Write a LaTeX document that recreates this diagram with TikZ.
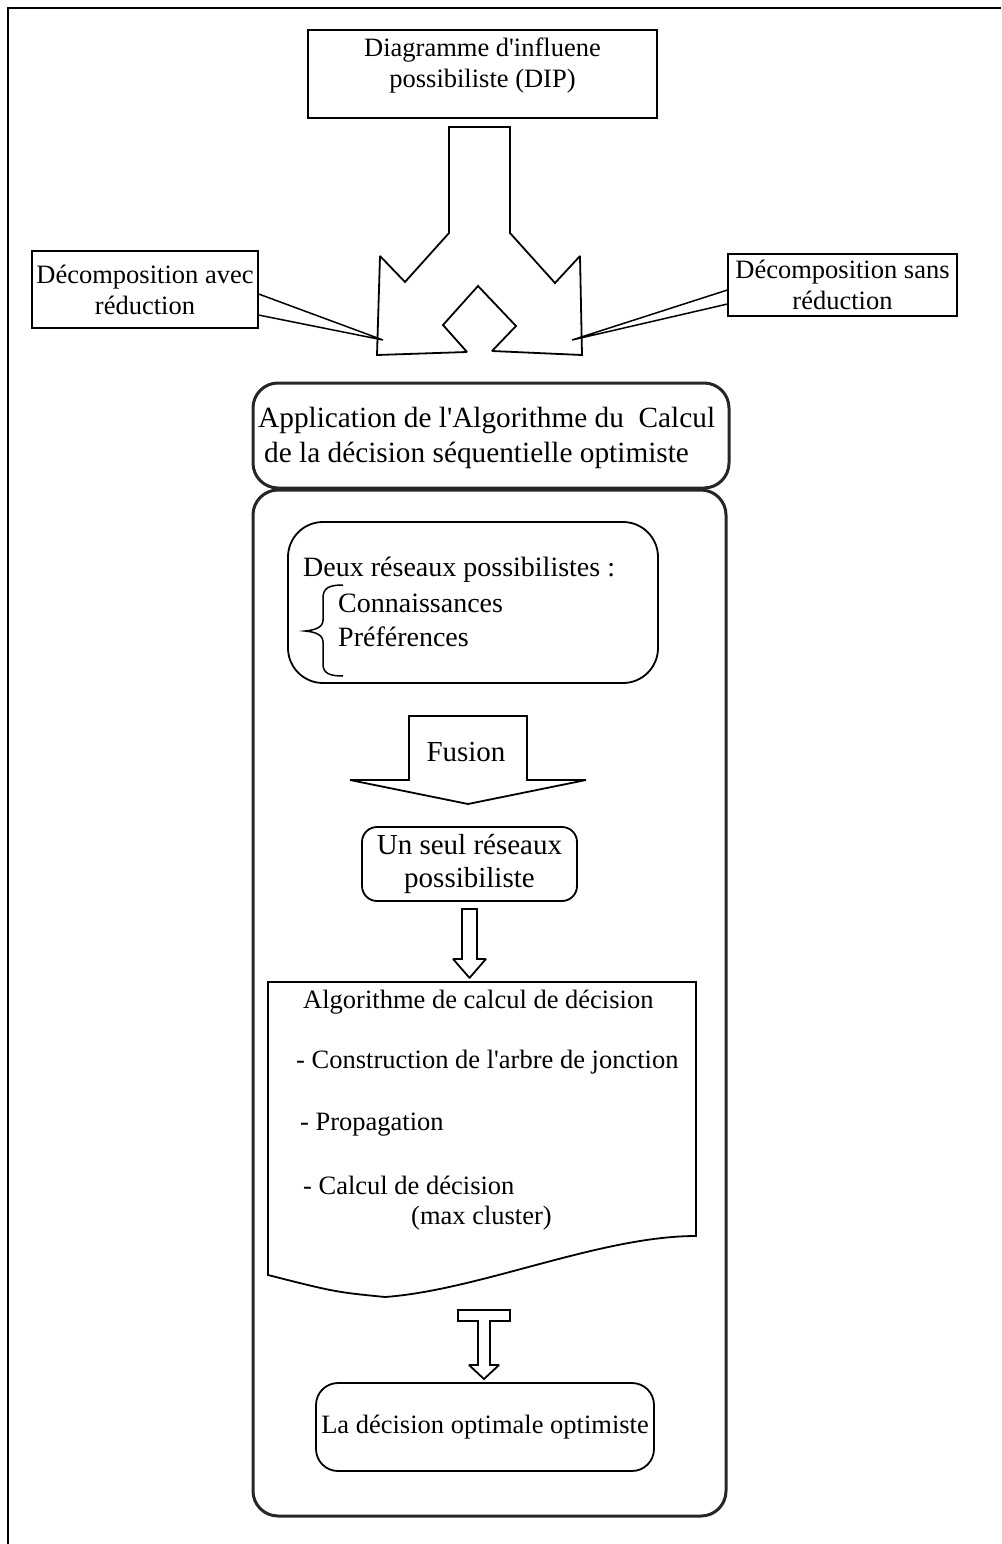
\documentclass[tikz,border=0pt]{standalone}
\usepackage{fontspec}
\setmainfont{Liberation Serif}[Ligatures=TeXOff]
\usetikzlibrary{calc}
\begin{document}
\begin{tikzpicture}[x=1pt,y=-1pt,line join=miter,
  frameline/.style={line width=2.5pt},
  sbox/.style={draw,line width=1.8pt,inner sep=0pt},
  rbox/.style={draw,line width=1.8pt,inner sep=0pt},
  bigbox/.style={draw=black!85,line width=3pt,inner sep=0pt,rounded corners=25pt},
  blk/.style={draw,line width=1.8pt,fill=white,miter limit=1.5},
  callout/.style={line width=1.5pt},
  f27/.style={font=\fontsize{26.5}{31}\selectfont,inner sep=0pt},
  f28/.style={font=\fontsize{28}{33.5}\selectfont,inner sep=0pt},
  f29/.style={font=\fontsize{29}{33}\selectfont,inner sep=0pt},
  f30/.style={font=\fontsize{29.3}{35}\selectfont,inner sep=0pt}
]
\useasboundingbox (0,0) rectangle (1001,1544);
% outer frame
\draw[frameline] (8,1544) -- (8,8) -- (1001,8);

% top box
\node[sbox,minimum width=349pt,minimum height=88pt] (dip) at (482.5,74) {};
\node[f27,align=center] (diptxt) at (482.5,65) {Diagramme d'influene\\possibiliste (DIP)};

% split block arrow
\draw[blk] (449,127) -- (510,127) -- (510,233) -- (555,283) -- (580,256) -- (582,355)
  -- (492,351) -- (516,326) -- (478,286) -- (443,325) -- (467,352) -- (377,355)
  -- (380,256) -- (405,282) -- (449,233) -- cycle;
\coordinate (tipL) at (383,340);
\coordinate (tipR) at (572,340);

% callouts
\node[sbox,minimum width=226pt,minimum height=77pt,f27,align=center,draw] (dla) at (145,289.5) {D\'ecomposition avec\\r\'eduction};
\node[sbox,minimum width=229pt,minimum height=62pt,f27,align=center,draw] (dsr) at (842.5,285) {D\'ecomposition sans\\r\'eduction};
\draw[callout] ($(dla.north east)+(0,44)$) -- (tipL) -- ($(dla.north east)+(0,65)$);
\draw[callout] ($(dsr.north west)+(0,37)$) -- (tipR) -- ($(dsr.north west)+(0,51)$);

% application box
\node[bigbox,minimum width=476pt,minimum height=105pt] (app) at (491,435.5) {};
\node[f30,align=left,anchor=west] (apptxt) at (258,437.5) {Application de l'Algorithme du\ \ Calcul\\\hspace*{6pt}de la d\'ecision s\'equentielle optimiste};

% container
\node[bigbox,minimum width=473pt,minimum height=1026pt] (cont) at (489.5,1003) {};

% deux reseaux
\node[rbox,rounded corners=35pt,minimum width=370pt,minimum height=161pt] (deux) at (473,602.5) {};
\node[f28,anchor=west] (deuxt) at (303,570) {Deux r\'eseaux possibilistes :};
\node[f28,anchor=west] (conn) at (338,603) {Connaissances};
\node[f28,anchor=west] (pref) at (338,637) {Pr\'ef\'erences};
\draw[line width=1.5pt] (343,585) .. controls (329,585) and (323,588) .. (323,598) -- (323,620)
  .. controls (323,627) and (316,630) .. (305,631)
  .. controls (316,632) and (323,635) .. (323,642) -- (323,664)
  .. controls (323,673) and (329,676) .. (343,676);

% fusion arrow
\draw[blk] (409,716) -- (527,716) -- (527,780) -- (586,780) -- (468,804) -- (350,780) -- (409,780) -- cycle;
\node[f29] (fusion) at (466,752) {Fusion};

% un seul reseau
\node[rbox,rounded corners=15pt,minimum width=215pt,minimum height=74pt,f29,align=center] (unseul) at (469.5,864) {Un seul r\'eseaux\\possibiliste};

% small arrow
\draw[blk] (unseul.south) ++(-7.5,7) -- ++(15,0) -- ++(0,50) -- ++(9,0) -- ++(-16.5,19) -- ++(-16.5,-19) -- ++(9,0) -- cycle;

% document shape
\coordinate (algo) at (482,982);
\draw[line width=1.8pt] (268,982) -- (696,982) -- (696,1236)
  .. controls (600,1236) and (480,1290) .. (385,1297)
  .. controls (335,1292) .. (268,1275) -- cycle;
\node[f27,anchor=west] (alg1) at (303,1002) {Algorithme de calcul de d\'ecision};
\node[f27,anchor=west] (alg2) at (296,1062) {- Construction de l'arbre de jonction};
\node[f27,anchor=west] (alg3) at (300,1125) {- Propagation};
\node[f27,anchor=west] (alg4) at (303,1185) {- Calcul de d\'ecision};
\node[f27,anchor=west] (alg5) at (411,1218) {(max cluster)};

% T arrow
\draw[blk] (458,1310) -- (510,1310) -- (510,1321) -- (490,1321) -- (490,1365) -- (499,1365)
  -- (484,1379) -- (469,1365) -- (478,1365) -- (478,1321) -- (458,1321) -- cycle;

% final box
\node[rbox,rounded corners=22pt,minimum width=338pt,minimum height=88pt,f27] (final) at (485,1427) {La d\'ecision optimale optimiste};
\end{tikzpicture}
\end{document}
